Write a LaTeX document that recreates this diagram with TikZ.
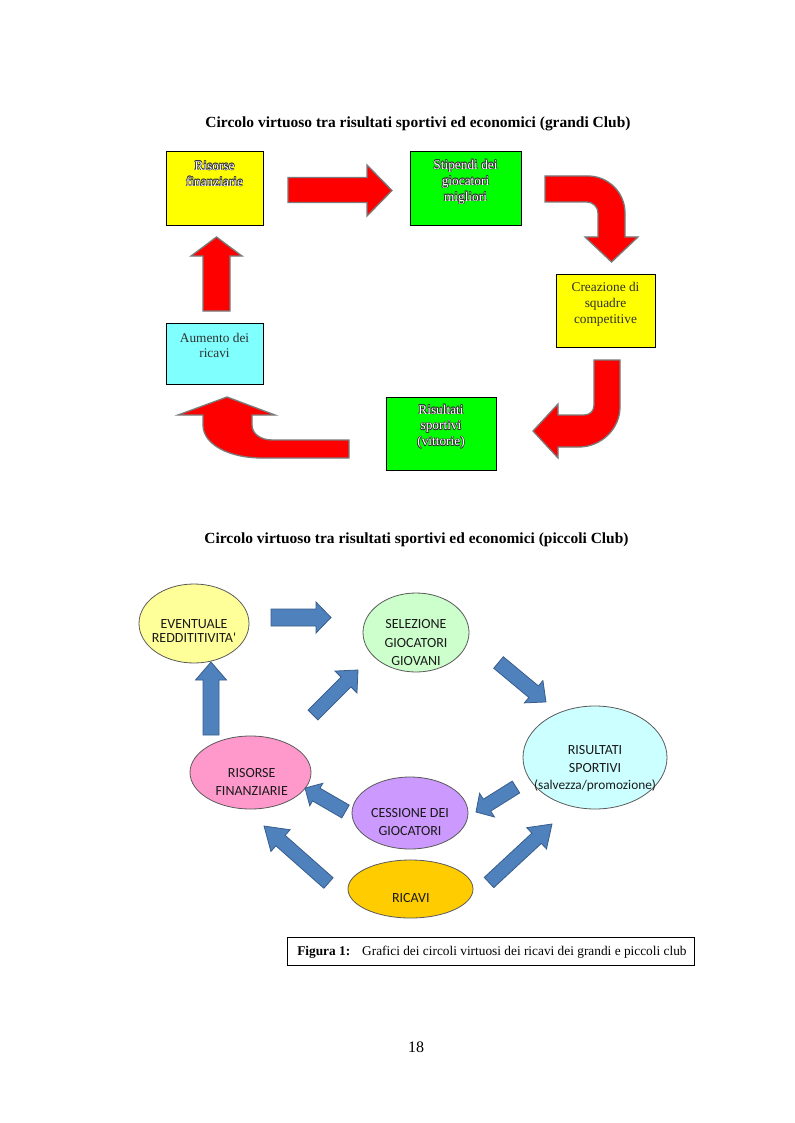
\documentclass[tikz,border=0pt]{standalone}
\usepackage{fontspec}
\setmainfont{Liberation Serif}
\newfontfamily\calibfont{Carlito}
\usetikzlibrary{shapes.geometric}

\newdimen\pxu \pxu=0.75pt

\definecolor{boxyellow}{HTML}{FFFF00}
\definecolor{boxgreen}{HTML}{00FF00}
\definecolor{boxcyan}{HTML}{80FFFF}
\definecolor{arrowred}{HTML}{FF0000}
\definecolor{arrowedge}{HTML}{7A7A7A}
\definecolor{bluefill}{HTML}{4F81BD}
\definecolor{blueedge}{HTML}{385D8A}
\definecolor{elyellow}{HTML}{FFFF99}
\definecolor{elgreen}{HTML}{CCFFCC}
\definecolor{elcyan}{HTML}{CCFFFF}
\definecolor{elpink}{HTML}{FF99CC}
\definecolor{elpurple}{HTML}{CC99FF}
\definecolor{elgold}{HTML}{FFCC00}
\definecolor{txtshadow}{HTML}{303030}
\definecolor{eledge}{HTML}{5A5A5A}
\definecolor{eltext}{HTML}{1A1A1A}

\tikzset{
  box/.style={draw=black, line width=1\pxu, inner sep=0pt},
  boxtxt/.style={align=center, inner sep=0pt, font=\fontsize{10}{#1}\selectfont},
  redarrow/.style={fill=arrowred, draw=arrowedge, line width=1.3\pxu, line join=miter},
  bluearrow/.style={fill=bluefill, draw=blueedge, line width=0.8\pxu, line join=miter},
  ell/.style={ellipse, draw=eledge, line width=0.8\pxu, inner sep=0pt},
  elltxt/.style={align=center, inner sep=0pt, text=eltext, font=\calibfont\fontsize{10.5}{#1}\selectfont},
  title/.style={font=\bfseries\fontsize{11.6}{14}\selectfont, inner sep=0pt},
}

\newcommand\outlinedlabel[4]{%
  \foreach \dx/\dy [count=\k] in {0.6/0,-0.6/0,0/0.6,0/-0.6,0.45/0.45,-0.45/0.45,0.45/-0.45,-0.45/-0.45}{%
    \node[boxtxt=#3, text=txtshadow, shift={(\dx,\dy)}] (#1-o\k) at (#2) {#4};
  }%
  \node[boxtxt=#3, text=white] (#1) at (#2) {#4};%
}

\newcommand\blockarrow[7]{%
  \pgfmathsetmacro\baang{atan2(-(#4-#2),#3-#1)}%
  \pgfmathsetmacro\balen{veclen(#3-#1,#4-#2)}%
  \pgfmathsetmacro\babase{\balen-#7}%
  \path[bluearrow, shift={(#1,#2)}, rotate=\baang] (0,-#5) -- (\babase,-#5) -- (\babase,-#6) -- (\balen,0) -- (\babase,#6) -- (\babase,#5) -- (0,#5) -- cycle;%
}

\begin{document}
\begin{tikzpicture}[x=0.75pt, y=-0.75pt]
\path[use as bounding box, fill=white] (0,0) rectangle (794,1123);

% ---------- top diagram ----------
\node[title] (t1) at (418,124) {Circolo virtuoso tra risultati sportivi ed economici (grandi Club)};

\node[box, fill=boxyellow, minimum width=97\pxu, minimum height=74\pxu] (rf) at (214.5,189) {};
\node[box, fill=boxgreen, minimum width=111\pxu, minimum height=74\pxu] (st) at (465.5,189) {};
\node[box, fill=boxyellow, minimum width=99\pxu, minimum height=73\pxu] (cr) at (605.5,310.5) {};
\node[box, fill=boxcyan, minimum width=97\pxu, minimum height=61\pxu] (au) at (214.5,353.5) {};
\node[box, fill=boxgreen, minimum width=110\pxu, minimum height=73\pxu] (rs) at (441,433.5) {};

\outlinedlabel{rflbl}{214.5,174}{12}{Risorse\\finanziarie}
\outlinedlabel{stlbl}{465.5,182}{12}{Stipendi dei\\giocatori\\migliori}
\outlinedlabel{rslbl}{441,426.7}{11.8}{Risultati\\sportivi\\(vittorie)}
\node[boxtxt=12, text=txtshadow] (crlbl) at (605.5,304) {Creazione di\\squadre\\competitive};
\node[boxtxt=11, text=txtshadow] (aulbl) at (214.5,345.4) {Aumento dei\\ricavi};

% red arrows
\path[redarrow] (288,177.5) -- (367,177.5) -- (367,165) -- (392,190.5) -- (367,216) -- (367,202.5) -- (288,202.5) -- cycle;
\path[redarrow] (545,176) -- (588,176) .. controls (608.4,176) and (625,192.6) .. (625,213) -- (625,237) -- (638,237) -- (611.5,262) -- (585,237) -- (598,237) -- (598,213) .. controls (598,207) and (593,202) .. (587,202) -- (545,202) -- cycle;
\path[redarrow] (594,360) -- (620,360) -- (620,407) .. controls (620,429) and (601,447) .. (579,447) -- (558,447) -- (558,458) -- (533,431) -- (558,404) -- (558,415) -- (584,415) .. controls (590,415) and (594,411) .. (594,405) -- cycle;
\path[redarrow] (349,440) -- (272,440) .. controls (261,440) and (252,434) .. (252,425) -- (252,415) -- (275,415) -- (227,397) -- (178,415) -- (203,415) -- (203,425) .. controls (203,445) and (230,458) .. (262,458) -- (349,458) -- cycle;
\path[redarrow] (203,311) -- (203,256) -- (191,256) -- (216.5,237) -- (242,256) -- (230,256) -- (230,311) -- cycle;

% ---------- bottom diagram ----------
\node[title] (t2) at (416.5,540) {Circolo virtuoso tra risultati sportivi ed economici (piccoli Club)};

\node[ell, fill=elyellow, minimum width=110\pxu, minimum height=79\pxu] (ev) at (194,623.5) {};
\node[ell, fill=elgreen, minimum width=106\pxu, minimum height=79\pxu] (se) at (416,632.5) {};
\node[ell, fill=elcyan, minimum width=144\pxu, minimum height=103\pxu] (ri) at (595,757.5) {};
\node[ell, fill=elpink, minimum width=121\pxu, minimum height=73\pxu] (rf2) at (250.5,772.5) {};
\node[ell, fill=elpurple, minimum width=116\pxu, minimum height=72\pxu] (ce) at (410,813) {};
\node[ell, fill=elgold, minimum width=125\pxu, minimum height=58\pxu] (rc) at (410.5,889) {};

\node[elltxt=10.9] (evlbl) at (194,630.8) {EVENTUALE\\REDDITITIVITA'};
\node[elltxt=13.9] (selbl) at (416,642.5) {SELEZIONE\\GIOCATORI\\GIOVANI};
\node[elltxt=13.3] (rilbl) at (595,768.6) {RISULTATI\\SPORTIVI\\{\fontsize{10}{13.3}\selectfont(salvezza/promozione)}};
\node[elltxt=13.5] (rf2lbl) at (251.7,782) {RISORSE\\FINANZIARIE};
\node[elltxt=13.3] (celbl) at (410,821.7) {CESSIONE DEI\\GIOCATORI};
\node[elltxt=12] (rclbl) at (410.8,898) {RICAVI};

% blue arrows
\blockarrow{271}{617.5}{331}{617.5}{8.5}{15.5}{15}
\blockarrow{211}{735}{211}{662}{8}{15.5}{18}
\blockarrow{313}{715}{358}{670}{7}{15.5}{17}
\blockarrow{498.5}{662.5}{546}{702}{7.5}{14.5}{16}
\blockarrow{516}{787}{476}{812}{7}{14}{13}
\blockarrow{345.5}{811.5}{305}{788}{7.4}{13}{13}
\blockarrow{328.5}{883}{264}{826}{7}{14.5}{22}
\blockarrow{489}{882.5}{552}{824}{7}{14.5}{21}

% caption
\node[draw=black, line width=0.8\pxu, minimum width=407\pxu, minimum height=28\pxu, inner sep=0pt] (cap) at (490.5,951) {};
\node[anchor=west, inner sep=0pt, font=\fontsize{10}{12}\selectfont] (captxt) at (297,952) {\textbf{Figura 1:}\hspace{0.9em}Grafici dei circoli virtuosi dei ricavi dei grandi e piccoli club};

\node[inner sep=0pt, font=\fontsize{12}{14}\selectfont] (pg) at (416,1047) {18};
\end{tikzpicture}
\end{document}
